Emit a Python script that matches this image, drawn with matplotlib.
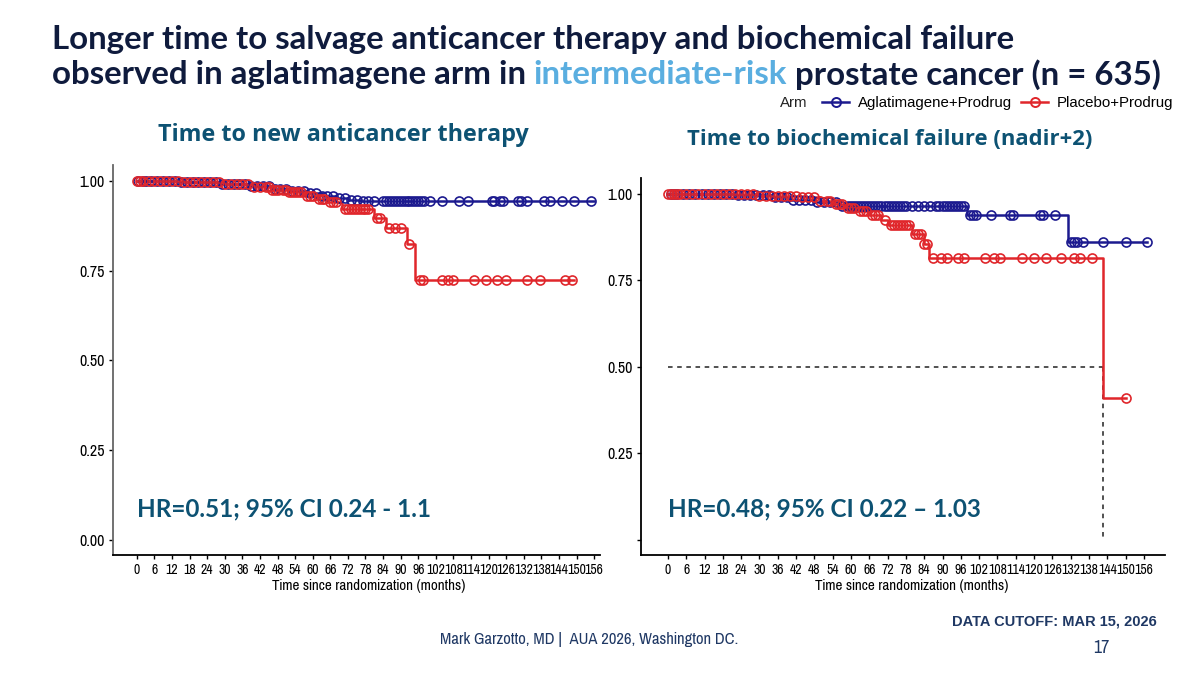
import matplotlib.pyplot as plt
from matplotlib import font_manager as fm
import numpy as np

# ---- data ----
xticks = list(range(0, 157, 6))

# left panel: time to new anticancer therapy
lb_t = [0, 14, 28, 38, 46, 52, 58, 63, 68, 72, 76]
lb_s = [1.0, 0.997, 0.992, 0.985, 0.978, 0.972, 0.965, 0.958, 0.952, 0.947, 0.943]
lb_end = 156
lb_cens = [0.5, 2, 3, 5, 7, 9, 11, 13, 15, 17, 19, 21, 23, 25, 27, 29, 31, 33, 35, 37,
           39, 41, 43, 45, 47, 49, 51, 53, 55, 57, 59, 61, 63, 65, 67, 69, 71, 73, 75,
           77, 79, 81, 84, 85, 86, 87, 88, 89, 90, 91, 92, 93, 94, 95, 96, 97, 98, 100,
           104, 110, 113, 121, 122, 124, 125, 130, 131, 133, 139, 141, 145, 149, 155]

lr_t = [0, 16, 30, 40, 46, 52, 57, 61, 65, 70, 81, 85, 92, 95]
lr_s = [1.0, 0.996, 0.99, 0.982, 0.975, 0.968, 0.958, 0.95, 0.94, 0.922, 0.897, 0.868,
        0.823, 0.725]
lr_end = 149
lr_cens = [0, 1, 2, 4, 6, 8, 10, 12, 14, 16, 18, 20, 22, 24, 26, 28, 30, 32, 34, 36, 38,
           40, 42, 44, 45, 46, 47, 48, 50, 51, 52, 53, 54, 55, 56, 58, 59, 60, 62, 63, 64,
           66, 67, 68, 71, 72, 73, 74, 75, 76, 77, 78, 79, 82, 83, 86, 88, 90, 93, 96.6,
           97.6, 104, 106, 108, 115, 119, 123, 126, 133, 137.5, 146, 148.5]

# right panel: time to biochemical failure
rb_t = [0, 22, 34, 40, 48, 56, 98, 131]
rb_s = [1.0, 0.996, 0.99, 0.982, 0.975, 0.965, 0.94, 0.86]
rb_end = 157
rb_cens = [1, 2, 3, 5, 7, 9, 11, 13, 15, 17, 19, 21, 23, 25, 27, 29, 31, 33, 35, 37, 39,
           41, 43, 45, 47, 49, 51, 53, 55, 57, 59, 60, 61, 62, 63, 64, 65, 66, 67, 68, 69,
           70, 71, 72, 73, 74, 75, 76, 77, 78, 80, 82, 84, 86, 88, 89, 90, 91, 92, 93, 94,
           95, 96, 97, 99, 100, 101, 106, 112, 113, 122, 123, 127, 132, 133, 134, 136,
           142.5, 150, 157]

rr_t = [0, 30, 44, 50, 54, 58, 62, 66, 70, 72, 80, 84, 85.5, 142.5]
rr_s = [1.0, 0.995, 0.99, 0.98, 0.97, 0.96, 0.95, 0.94, 0.925, 0.91, 0.885, 0.855,
        0.815, 0.41]
rr_end = 150
rr_cens = [0, 1, 2, 3, 4, 6, 8, 10, 12, 14, 16, 18, 20, 22, 24, 26, 28, 30, 32, 34, 36,
           38, 40, 42, 44, 46, 48, 50, 52, 53, 55, 56, 57, 59, 60, 61, 63, 64, 65, 67, 68,
           69, 71, 73, 74, 75, 76, 77, 78, 79, 81, 82, 83, 84, 85, 87, 89.5, 91.6, 95, 97,
           104, 107, 109, 116, 120, 124, 129, 133, 135, 139, 150]
median_t = 142.5

BLUE = '#1c1a8f'
RED = '#e0262b'
NAVY = '#0f1b3d'
TEAL = '#0d5273'


# narrow upright regular font for axis text (Arial Narrow look)
def pick_narrow():
    found = []
    for f in fm.fontManager.ttflist:
        name = (f.name + ' ' + f.fname).lower()
        if f.style != 'normal' or f.weight not in (400, 'normal', 'regular'):
            continue
        if 'mono' in name or 'semi' in name or 'extra' in name or 'ultra' in name:
            continue
        if 'narrow' in name:
            found.insert(0, f)
        elif 'condensed' in name or f.stretch == 'condensed':
            found.append(f)
    if found:
        return fm.FontProperties(fname=found[0].fname), True
    return fm.FontProperties(family=['Liberation Sans', 'DejaVu Sans']), False


NARROW, have_narrow = pick_narrow()
XT_FS = 10.8 if have_narrow else 8.6
YT_FS = 12.5 if have_narrow else 9.5
LAB_FS = 11.8 if have_narrow else 10


def fp(size, base=NARROW):
    p = base.copy()
    p.set_size(size)
    return p


def km(ax, t, s, t_end, cens, color):
    tt = list(t) + [t_end]
    ss = list(s) + [s[-1]]
    ax.step(tt, ss, where='post', color=color, lw=1.8, zorder=3)
    idx = np.searchsorted(t, cens, side='right') - 1
    ax.plot(cens, np.array(s)[idx], 'o', mfc='none', mec=color, ms=6.5, mew=1.2, zorder=4)


def style(ax, xlim, ylim, yticks, ylabels, label_xy):
    ax.set_xlim(*xlim)
    ax.set_ylim(*ylim)
    ax.set_xticks(xticks)
    ax.set_xticklabels([str(v) for v in xticks], fontproperties=fp(XT_FS))
    ax.set_yticks(yticks)
    ax.set_yticklabels(ylabels, fontproperties=fp(YT_FS))
    for sp in ['top', 'right']:
        ax.spines[sp].set_visible(False)
    for sp in ['left', 'bottom']:
        ax.spines[sp].set_linewidth(1.3)
    ax.tick_params(length=3, width=1, pad=3)
    ax.set_xlabel('Time since randomization (months)', fontproperties=fp(LAB_FS), va='top')
    ax.xaxis.set_label_coords(*label_xy)


fig = plt.figure(figsize=(12, 6.75), dpi=100)

ax1 = fig.add_axes([0.094, 0.178, 0.406, 0.578])
km(ax1, lb_t, lb_s, lb_end, lb_cens, BLUE)
km(ax1, lr_t, lr_s, lr_end, lr_cens, RED)
style(ax1, (-8.2, 158), (-0.042, 1.045), [0, 0.25, 0.5, 0.75, 1.0],
      ['0.00', '0.25', '0.50', '0.75', '1.00'], (0.526, -0.062))
ax1.spines['left'].set_color('#666666')
ax1.text(0, 0.087, 'HR=0.51; 95% CI 0.24 - 1.1', family=['Lato', 'DejaVu Sans'],
         fontweight='bold', fontsize=17.5, color=TEAL, va='center')

ax2 = fig.add_axes([0.534, 0.178, 0.437, 0.5585])
km(ax2, rb_t, rb_s, rb_end, rb_cens, BLUE)
km(ax2, rr_t, rr_s, rr_end, rr_cens, RED)
ax2.plot([0, median_t], [0.5, 0.5], ls=(0, (3, 3)), color='#222222', lw=1.1, zorder=2)
ax2.plot([median_t, median_t], [0.5, 0], ls=(0, (3, 3)), color='#222222', lw=1.1, zorder=2)
style(ax2, (-8.9, 163), (-0.043, 1.046), [0, 0.25, 0.5, 0.75, 1.0],
      ['', '0.25', '0.50', '0.75', '1.00'], (0.517, -0.064))
ax2.text(0, 0.09, 'HR=0.48; 95% CI 0.22 \u2013 1.03', family=['Lato', 'DejaVu Sans'],
         fontweight='bold', fontsize=17.5, color=TEAL, va='center')

# panel titles
sub = dict(family=['Open Sans', 'DejaVu Sans'], fontweight='bold', color=TEAL,
           ha='center', va='center')
fig.text(0.286, 0.800, 'Time to new anticancer therapy', fontsize=16.8, **sub)
fig.text(0.741, 0.793, 'Time to biochemical failure (nadir+2)', fontsize=15.8, **sub)

# main title
tf = dict(family=['Lato', 'DejaVu Sans'], fontweight='bold', fontsize=23.8, va='center')
fig.text(0.043, 0.941, 'Longer time to salvage anticancer therapy and biochemical failure',
         color=NAVY, **tf)
parts = [('observed in aglatimagene arm in ', NAVY), ('intermediate-risk', '#5aaee0'),
         (' prostate cancer (n = 635)', NAVY)]
fig.canvas.draw()
r = fig.canvas.get_renderer()
x = 0.043
for txt, col in parts:
    t = fig.text(x, 0.890, txt, color=col, **tf)
    bb = t.get_window_extent(renderer=r)
    x += bb.width / fig.bbox.width

# legend
fig.text(0.650, 0.847, 'Arm', family=['Liberation Sans', 'DejaVu Sans'], fontsize=10.8,
         va='center', color='#222222')
h1, = ax2.plot([], [], '-o', color=BLUE, mfc='none', ms=6.5, mew=1.4, lw=1.8)
h2, = ax2.plot([], [], '-o', color=RED, mfc='none', ms=6.5, mew=1.4, lw=1.8)
fig.legend([h1, h2], ['Aglatimagene+Prodrug', 'Placebo+Prodrug'], ncol=2,
           loc='center left', bbox_to_anchor=(0.680, 0.847), frameon=False,
           prop={'family': ['Liberation Sans', 'DejaVu Sans'], 'size': 10.8},
           handlelength=1.8, columnspacing=0.6, handletextpad=0.6, borderaxespad=0)

# footer
fig.text(0.367, 0.052, 'Mark Garzotto, MD |  AUA 2026, Washington DC.',
         fontproperties=fp(13 if have_narrow else 9.8), color='#1f3864', va='center')
fig.text(0.964, 0.080, 'DATA CUTOFF: MAR 15, 2026', family=['Liberation Sans', 'DejaVu Sans'],
         fontweight='bold', fontsize=10.5, color='#1f3864', ha='right', va='center')
fig.text(0.918, 0.040, '17', fontproperties=fp(14 if have_narrow else 11), color='#1f3864',
         ha='center', va='center')

fig.savefig('out.png', dpi=100)
